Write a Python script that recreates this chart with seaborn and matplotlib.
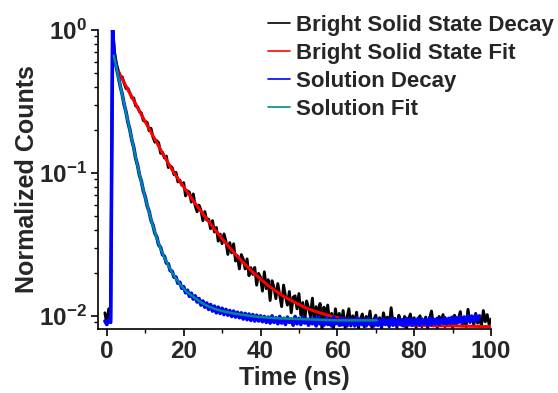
import numpy as np
import pandas as pd
import matplotlib
matplotlib.use('Agg')
import matplotlib.pyplot as plt
import seaborn as sns
from matplotlib.ticker import MultipleLocator, LogLocator, NullFormatter

# time base of both decays: channels every 0.5 ns starting at -0.5 ns
time_step = 0.5
time_start = -0.5

# bright solid state decay (normalized counts), -0.5 ... 100 ns
bright_decay = [
    0.0105, 0.0088, 0.0112, 0.0095, 1.0, 0.70, 0.58,
    # 3.0 - 9.5
    0.516, 0.469, 0.469, 0.424, 0.389, 0.389, 0.362, 0.334, 0.334, 0.294,
    0.290, 0.268, 0.262, 0.232,
    # 10 - 19.5
    0.229, 0.225, 0.197, 0.205, 0.178, 0.164, 0.168, 0.162, 0.137, 0.139,
    0.127, 0.131, 0.109, 0.112, 0.109, 0.097, 0.1008, 0.0866, 0.0889, 0.0821,
    # 20 - 29.5
    0.0854, 0.0690, 0.0748, 0.0732, 0.0625, 0.0712, 0.0588, 0.0535, 0.0595, 0.0549,
    0.0463, 0.0536, 0.0468, 0.0475, 0.0407, 0.0463, 0.0386, 0.0415, 0.0333, 0.0373,
    # 30 - 39.5
    0.0320, 0.0374, 0.0333, 0.0269, 0.0325, 0.0276, 0.0319, 0.0242, 0.0263, 0.0213,
    0.0268, 0.0249, 0.0213, 0.0250, 0.0191, 0.0217, 0.0195, 0.0218, 0.0164, 0.0198,
    # 40 - 49.5
    0.0186, 0.0149, 0.0203, 0.0155, 0.0179, 0.0128, 0.0176, 0.0158, 0.0132, 0.0168,
    0.0139, 0.0116, 0.0164, 0.0137, 0.0119, 0.0148, 0.0105, 0.0135, 0.0138, 0.0112,
    # 50 - 60
    0.0143, 0.0101, 0.0124, 0.0091, 0.0127, 0.0114, 0.0099, 0.0133, 0.0089, 0.0116,
    0.0101, 0.0122, 0.0081, 0.0115, 0.0099, 0.0119, 0.0087, 0.0104, 0.0082, 0.0112,
    0.0089,
    # 60.5 - 100
    0.0104, 0.0086, 0.0109, 0.0083, 0.0097, 0.0112, 0.0085, 0.0100, 0.0088, 0.0106,
    0.0082, 0.0095, 0.0103, 0.0084, 0.0099, 0.0090, 0.0108, 0.0083, 0.0094, 0.0101,
    0.0086, 0.0097, 0.0082, 0.0105, 0.0089, 0.0098, 0.0084, 0.0114, 0.0087, 0.0096,
    0.0083, 0.0101, 0.0092, 0.0085, 0.0099, 0.0082, 0.0094, 0.0103, 0.0086, 0.0097,
    0.0083, 0.0093, 0.0100, 0.0084, 0.0090, 0.0098, 0.0082, 0.0096, 0.0108, 0.0085,
    0.0094, 0.0083, 0.0099, 0.0089, 0.0102, 0.0084, 0.0093, 0.0086, 0.0097, 0.0083,
    0.0101, 0.0088, 0.0095, 0.0107, 0.0085, 0.0098, 0.0084, 0.0111, 0.0090, 0.0100,
    0.0086, 0.0104, 0.0089, 0.0097, 0.0085, 0.0109, 0.0091, 0.0102, 0.0087, 0.0095,
]

# solution decay (normalized counts), -0.5 ... 97 ns
solution_decay = [
    0.0092, 0.0087, 0.0094, 0.0090, 1.0, 0.64, 0.55,
    # 3.0 - 19.5
    0.474, 0.403, 0.355, 0.301, 0.266, 0.226, 0.200, 0.170, 0.151, 0.127,
    0.113, 0.0965, 0.0872, 0.0748, 0.0680, 0.0588, 0.0538, 0.0467, 0.0432, 0.0379,
    0.0356, 0.0314, 0.0301, 0.0268, 0.0261, 0.0234, 0.0231, 0.0207, 0.0205, 0.0186,
    0.0187, 0.0169, 0.0172, 0.0156,
    # 20 - 40
    0.0160, 0.0145, 0.0151, 0.0137, 0.0144, 0.0131, 0.0138, 0.0125, 0.0132, 0.0119,
    0.0127, 0.0115, 0.0123, 0.0111, 0.0120, 0.0108, 0.0117, 0.0105, 0.0115, 0.0104,
    0.0113, 0.0102, 0.0111, 0.0101, 0.0109, 0.0099, 0.0108, 0.0098, 0.0106, 0.0097,
    0.0105, 0.0095, 0.0104, 0.0094, 0.0103, 0.0093, 0.0102, 0.0092, 0.0101, 0.0092,
    0.0100,
    # 40.5 - 97
    0.0091, 0.0099, 0.0090, 0.0098, 0.0089, 0.0100, 0.0090, 0.0097, 0.0088, 0.0099,
    0.0089, 0.0096, 0.0087, 0.0098, 0.0090, 0.0095, 0.0086, 0.0099, 0.0088, 0.0096,
    0.0087, 0.0098, 0.0089, 0.0095, 0.0086, 0.0097, 0.0088, 0.0096, 0.0085, 0.0098,
    0.0088, 0.0094, 0.0086, 0.0097, 0.0087, 0.0095, 0.0085, 0.0098, 0.0088, 0.0094,
    0.0086, 0.0097, 0.0087, 0.0095, 0.0085, 0.0096, 0.0088, 0.0094, 0.0085, 0.0097,
    0.0086, 0.0095, 0.0087, 0.0094, 0.0085, 0.0096, 0.0087, 0.0093, 0.0085, 0.0096,
    0.0086, 0.0094, 0.0085, 0.0095, 0.0087, 0.0093, 0.0085, 0.0096, 0.0086, 0.0094,
    0.0086, 0.0095, 0.0087, 0.0094, 0.0085, 0.0096, 0.0087, 0.0095, 0.0086, 0.0094,
    0.0087, 0.0096, 0.0086, 0.0095, 0.0088, 0.0094, 0.0086, 0.0097, 0.0087, 0.0095,
    0.0088, 0.0096, 0.0087, 0.0094, 0.0089, 0.0097, 0.0088, 0.0096, 0.0089, 0.0098,
    0.0089, 0.0097, 0.0090, 0.0099, 0.0090, 0.0098, 0.0091, 0.0100, 0.0091, 0.0099,
    0.0092, 0.0101, 0.0093, 0.0100,
]

# fits
bright_fit_time = [2.9, 4, 5, 6, 7, 8, 9, 10, 11, 12, 13, 14, 15, 16, 17, 18, 19, 20,
                   21, 22, 23, 24, 25, 26, 27, 28, 29, 30, 31, 32, 33, 34, 35, 36, 37,
                   38, 39, 40, 42, 44, 46, 48, 50, 52, 54, 56, 58, 60, 63, 66, 70, 75,
                   80, 90, 100]
bright_fit = [0.520, 0.454, 0.404, 0.360, 0.321, 0.286, 0.255, 0.228, 0.204, 0.182,
              0.163, 0.145, 0.130, 0.117, 0.105, 0.0955, 0.0872, 0.0797, 0.0730,
              0.0668, 0.0613, 0.0563, 0.0517, 0.0476, 0.0439, 0.0405, 0.0375, 0.0347,
              0.0322, 0.0299, 0.0279, 0.0260, 0.0244, 0.0228, 0.0215, 0.0202, 0.0191,
              0.0181, 0.0163, 0.0149, 0.0137, 0.0128, 0.0120, 0.0113, 0.0108, 0.0104,
              0.0100, 0.0097, 0.0094, 0.0091, 0.0089, 0.0087, 0.0086, 0.0085, 0.0084]

solution_fit_time = [1.8, 2.5, 3, 4, 5, 6, 7, 8, 9, 10, 11, 12, 13, 14, 15, 16, 17, 18,
                     19, 20, 21, 22, 23, 24, 25, 26, 28, 30, 33, 36, 40, 45, 50, 55, 60,
                     65, 70.3]
solution_fit = [0.66, 0.55, 0.470, 0.352, 0.264, 0.198, 0.149, 0.112, 0.086, 0.067,
                0.053, 0.0425, 0.0350, 0.0295, 0.0255, 0.0225, 0.0200, 0.0182, 0.0167,
                0.0155, 0.0146, 0.0139, 0.0133, 0.0127, 0.0122, 0.0118, 0.0112, 0.0108,
                0.0104, 0.0101, 0.0098, 0.0096, 0.0095, 0.0094, 0.0093, 0.0093, 0.0093]

labels = ['Bright Solid State Decay', 'Bright Solid State Fit',
          'Solution Decay', 'Solution Fit']
colors = ['#000000', '#ff0000', '#0000ff', '#008b8b']

bright_time = time_start + time_step * np.arange(len(bright_decay))
solution_time = time_start + time_step * np.arange(len(solution_decay))

sns.set_style('ticks')
plt.rcParams['font.family'] = ['Liberation Sans', 'DejaVu Sans']
plt.rcParams['font.weight'] = 'bold'
plt.rcParams['mathtext.fontset'] = 'custom'
plt.rcParams['mathtext.rm'] = 'Liberation Sans:bold'
plt.rcParams['mathtext.bf'] = 'Liberation Sans:bold'
plt.rcParams['mathtext.default'] = 'bf'

fig = plt.figure(figsize=(5.58, 3.93), dpi=100)
ax = fig.add_axes([0.1756, 0.163, 0.7044, 0.761])

series = [
    (bright_time, bright_decay, 2.1),
    (bright_fit_time, bright_fit, 2.2),
    (solution_time, solution_decay, 2.6),
    (solution_fit_time, solution_fit, 1.8),
]
for (t, v, lw), lab, col in zip(series, labels, colors):
    df = pd.DataFrame({'t': t, 'v': v})
    sns.lineplot(data=df, x='t', y='v', ax=ax, color=col, lw=lw, label=lab,
                 estimator=None, sort=False, legend=False)

ax.set_yscale('log')
ax.set_xlim(-2.3, 100)
ax.set_ylim(0.0081, 1.0)
ax.xaxis.set_major_locator(MultipleLocator(20))
ax.xaxis.set_minor_locator(MultipleLocator(10))
ax.yaxis.set_major_locator(LogLocator(base=10))
ax.yaxis.set_minor_locator(LogLocator(base=10, subs=np.arange(2, 10)))
ax.yaxis.set_minor_formatter(NullFormatter())
ax.tick_params(axis='both', which='major', labelsize=17.5, length=5, width=1.2,
               color='black', pad=3)
ax.tick_params(axis='both', which='minor', length=3, width=1, color='black')
for s in ['left', 'bottom']:
    ax.spines[s].set_linewidth(1.2)
    ax.spines[s].set_color('black')
sns.despine(ax=ax)

ax.set_xlabel('Time (ns)', fontsize=18, fontweight='bold', labelpad=2)
ax.set_ylabel('Normalized Counts', fontsize=18, fontweight='bold')
ax.yaxis.set_label_coords(-0.15, 0.5)

handles = [plt.Line2D([], [], color=c, lw=1.2) for c in colors]
fig.legend(handles, labels, loc='upper left', bbox_to_anchor=(0.480, 0.962),
           frameon=False, fontsize=16, handlelength=1.0, handletextpad=0.25,
           labelspacing=0.32, borderpad=0, borderaxespad=0)

fig.savefig('out.png', dpi=100)
